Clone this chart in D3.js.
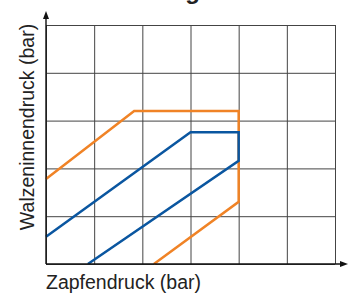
<!DOCTYPE html>
<html>
<head>
<meta charset="utf-8">
<script src="https://cdn.jsdelivr.net/npm/d3@7"></script>
<style>
  body { margin: 0; background: #fff; }
  text { font-family: "Liberation Sans", Arial, sans-serif; fill: #222; }
</style>
</head>
<body>
<div id="chart"></div>
<script>

// grid ticks (no labels on the original)
const xTicks = [0, 1, 2, 3, 4, 5, 6];
const yTicks = [0, 1, 2, 3, 4, 5];

// orange envelope
const orangeX = [0, 1.83, 4, 4, 2.24];
const orangeY = [1.78, 3.2, 3.2, 1.30, 0];

// blue envelope
const blueX = [0, 3, 4, 4, 0.87];
const blueY = [0.57, 2.755, 2.755, 2.16, 0];

const width = 348, height = 293;
const margin = { top: 25, right: 13, bottom: 29, left: 46 };

const svg = d3.select('#chart').append('svg')
  .attr('width', width)
  .attr('height', height);

let x = d3.scaleLinear()
  .domain([0, 6])
  .range([margin.left, width - margin.right]);

let y = d3.scaleLinear()
  .domain([0, 5])
  .range([height - margin.bottom, margin.top]);

// title, only its descender shows on the picture
svg.append('text')
  .attr('x', 200)
  .attr('y', -1)
  .style('text-anchor', 'end')
  .style('font-size', '24px')
  .style('font-weight', 'bold')
  .text('Einstellung');

// grid
svg.append('g')
  .attr('transform', `translate(0, ${y(0)})`)
  .call(d3.axisBottom(x).tickValues(xTicks).tickSize(-(y(0) - y(5))).tickFormat(''))
  .call(g => g.select('.domain').remove())
  .selectAll('.tick line')
  .attr('stroke', '#444')
  .attr('stroke-width', 1);

svg.append('g')
  .attr('transform', `translate(${x(0)}, 0)`)
  .call(d3.axisLeft(y).tickValues(yTicks).tickSize(-(x(6) - x(0))).tickFormat(''))
  .call(g => g.select('.domain').remove())
  .selectAll('.tick line')
  .attr('stroke', '#444')
  .attr('stroke-width', 1);

// the two envelopes
const line = d3.line().x(d => x(d[0])).y(d => y(d[1]));

const series = [
  { name: 'orange', colour: '#f08326', pts: d3.zip(orangeX, orangeY) },
  { name: 'blue', colour: '#0a56a0', pts: d3.zip(blueX, blueY) }
];

svg.selectAll('path.env')
  .data(series)
  .enter()
  .append('path')
  .attr('class', 'env')
  .attr('d', d => line(d.pts))
  .attr('fill', 'none')
  .attr('stroke', d => d.colour)
  .attr('stroke-width', 2.5)
  .attr('stroke-linejoin', 'miter');

// axes with arrows
const x0 = x(0), y0 = y(0);
svg.append('line')
  .attr('x1', x0).attr('y1', y0)
  .attr('x2', x0).attr('y2', 16)
  .attr('stroke', '#111').attr('stroke-width', 1.4);
svg.append('path')
  .attr('d', `M${x0},11 L${x0 - 3},19 L${x0 + 3},19 Z`)
  .attr('fill', '#111');

svg.append('line')
  .attr('x1', x0).attr('y1', y0)
  .attr('x2', 342).attr('y2', y0)
  .attr('stroke', '#111').attr('stroke-width', 1.4);
svg.append('path')
  .attr('d', `M348,${y0} L340,${y0 - 3} L340,${y0 + 3} Z`)
  .attr('fill', '#111');

// axis titles
svg.append('text')
  .attr('x', x0)
  .attr('y', 289)
  .style('font-size', '19.5px')
  .text('Zapfendruck (bar)');

svg.append('text')
  .attr('transform', `translate(34, 127) rotate(-90)`)
  .style('text-anchor', 'middle')
  .style('font-size', '19.5px')
  .text('Walzeninnendruck (bar)');

</script>
</body>
</html>
